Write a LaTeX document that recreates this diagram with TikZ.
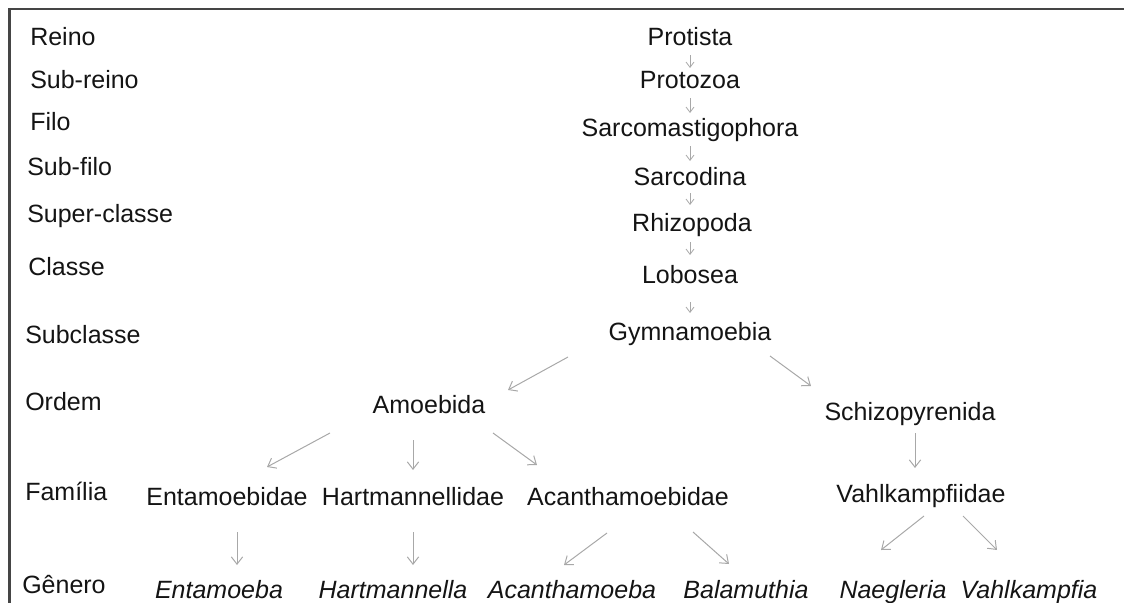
\documentclass[tikz,border=0pt]{standalone}
\usepackage{fontspec}
\setmainfont{Liberation Sans}
\usetikzlibrary{arrows.meta,calc}
\definecolor{txt}{HTML}{141414}
\definecolor{arrc}{HTML}{A8A8A8}
\definecolor{framec}{HTML}{454545}
\begin{document}
\begin{tikzpicture}[x=0.75pt,y=-0.75pt,
  lbl/.style={inner sep=0pt,text height=13.4pt,text depth=0pt,font=\fontsize{18.75}{22}\selectfont,text=txt},
  rank/.style={lbl,anchor=west},
  taxon/.style={lbl},
  genus/.style={lbl,font=\fontsize{18.75}{22}\selectfont\itshape},
  arr/.style={draw=arrc,line width=0.75pt,-{Straight Barb[length=5.5pt,width=8.5pt]}},
  sarr/.style={draw=arrc,line width=0.6pt,-{Straight Barb[length=4pt,width=6pt]}},
  frameline/.style={draw=framec,line width=1.9pt}]
\useasboundingbox (0,0) rectangle (1124,603);
\draw[frameline] (9.5,603) -- (9.5,9) -- (1124,9);
% ranks
\node[rank] (r1) at (30,37) {Reino};
\node[rank] (r2) at (30,80) {Sub-reino};
\node[rank] (r3) at (30,122) {Filo};
\node[rank] (r4) at (27,167) {Sub-filo};
\node[rank] (r5) at (27,214) {Super-classe};
\node[rank] (r6) at (28,267) {Classe};
\node[rank] (r7) at (25,335) {Subclasse};
\node[rank] (r8) at (25,402) {Ordem};
\node[rank] (r9) at (25,492) {Família};
\node[rank] (r10) at (22,585) {Gênero};
% taxa
\node[taxon] (prot) at (690,37) {Protista};
\node[taxon] (protz) at (690,80) {Protozoa};
\node[taxon] (sarm) at (690,128) {Sarcomastigophora};
\node[taxon] (sard) at (690,177) {Sarcodina};
\node[taxon] (rhiz) at (692,223) {Rhizopoda};
\node[taxon] (lob) at (690,275) {Lobosea};
\node[taxon] (gym) at (690,332) {Gymnamoebia};
\node[taxon] (amo) at (429,405) {Amoebida};
\node[taxon] (sch) at (910,412) {Schizopyrenida};
\node[taxon] (entf) at (227,497) {Entamoebidae};
\node[taxon] (harf) at (413,497) {Hartmannellidae};
\node[taxon] (acf) at (628,497) {Acanthamoebidae};
\node[taxon] (vahf) at (921,494) {Vahlkampfiidae};
\node[genus] (eng) at (219,590) {Entamoeba};
\node[genus] (hag) at (393,590) {Hartmannella};
\node[genus] (acg) at (572,590) {Acanthamoeba};
\node[genus] (bag) at (746,590) {Balamuthia};
\node[genus] (nag) at (893,590) {Naegleria};
\node[genus] (vkg) at (1029,590) {Vahlkampfia};
% small arrows in the column
\draw[sarr] ($(prot)+(0,18)$) -- ($(protz)+(0,-12)$);
\draw[sarr] ($(protz)+(0,18)$) -- ($(sarm)+(0,-15)$);
\draw[sarr] ($(sarm)+(0,18)$) -- ($(sard)+(0,-16)$);
\draw[sarr] ($(sard)+(0,16)$) -- ($(rhiz)+(-2,-18)$);
\draw[sarr] ($(rhiz)+(-2,19)$) -- ($(lob)+(0,-20)$);
\draw[sarr] ($(lob)+(0,27)$) -- ($(gym)+(0,-19)$);
% branching arrows
\draw[arr] ($(gym)+(-122,25)$) -- ($(amo)+(79,-15)$);
\draw[arr] ($(gym)+(80,24)$) -- ($(sch)+(-99,-26)$);
\draw[arr] ($(amo)+(-99,28)$) -- ($(entf)+(40,-30)$);
\draw[arr] ($(amo)+(-16,35)$) -- ($(harf)+(0,-27)$);
\draw[arr] ($(amo)+(64,28)$) -- ($(acf)+(-91,-32)$);
\draw[arr] ($(sch)+(5,21)$) -- ($(vahf)+(-6,-26)$);
\draw[arr] ($(entf)+(10,35)$) -- ($(eng)+(18,-25)$);
\draw[arr] ($(harf)+(0,35)$) -- ($(hag)+(20,-25)$);
\draw[arr] ($(acf)+(-21,36)$) -- ($(acg)+(-8,-25)$);
\draw[arr] ($(acf)+(65,35)$) -- ($(bag)+(-17,-26)$);
\draw[arr] ($(vahf)+(3,22)$) -- ($(nag)+(-12,-40)$);
\draw[arr] ($(vahf)+(42,22)$) -- ($(vkg)+(-32,-40)$);
\end{tikzpicture}
\end{document}
